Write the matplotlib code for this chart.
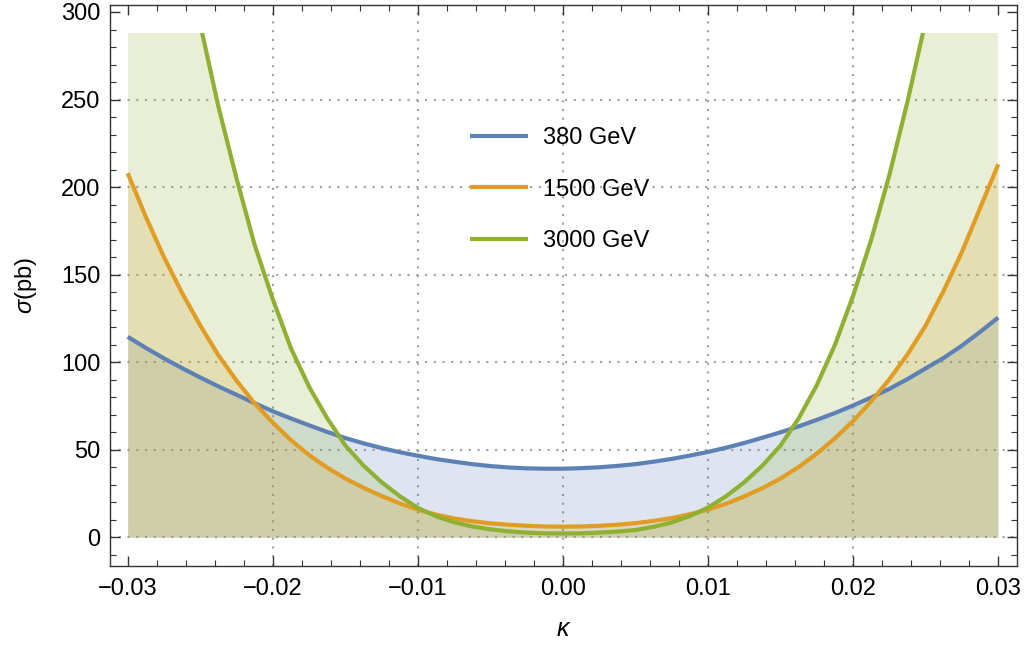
import matplotlib
matplotlib.use("Agg")
import matplotlib.pyplot as plt
from matplotlib.patches import Rectangle
from matplotlib.ticker import MultipleLocator

plt.rcParams['font.family'] = ['Liberation Sans', 'DejaVu Sans']
plt.rcParams['mathtext.fontset'] = 'custom'
plt.rcParams['mathtext.it'] = 'Liberation Sans:italic'
plt.rcParams['mathtext.rm'] = 'Liberation Sans'

# values (step 0.00125 in kappa)
kappa = [-0.03, -0.02875, -0.0275, -0.02625, -0.025, -0.02375, -0.0225, -0.02125,
         -0.02, -0.01875, -0.0175, -0.01625, -0.015, -0.01375, -0.0125, -0.01125,
         -0.01, -0.00875, -0.0075, -0.00625, -0.005, -0.00375, -0.0025, -0.00125,
         0.0, 0.00125, 0.0025, 0.00375, 0.005, 0.00625, 0.0075, 0.00875,
         0.01, 0.01125, 0.0125, 0.01375, 0.015, 0.01625, 0.0175, 0.01875,
         0.02, 0.02125, 0.0225, 0.02375, 0.025, 0.02625, 0.0275, 0.02875, 0.03]
sigma_380 = [114.5, 108.2, 102.2, 96.6, 91.3, 86.2, 81.4, 76.6,
             72.0, 67.9, 64.0, 60.2, 56.7, 53.7, 51.0, 48.6,
             46.6, 44.7, 43.2, 41.8, 40.7, 39.9, 39.4, 39.2,
             39.2, 39.5, 40.0, 40.8, 41.8, 43.2, 44.8, 46.7,
             48.8, 51.2, 53.9, 56.9, 60.0, 63.4, 67.1, 71.0,
             75.3, 79.9, 84.8, 90.4, 96.5, 102.5, 109.5, 117.3, 125.5]
sigma_1500 = [208.0, 183.0, 160.0, 139.5, 121.0, 104.0, 89.5, 76.5,
              65.5, 55.5, 47.0, 39.8, 33.6, 28.3, 23.6, 19.4,
              15.8, 13.0, 10.8, 9.2, 8.0, 7.2, 6.6, 6.2,
              6.1, 6.2, 6.6, 7.2, 8.1, 9.4, 11.0, 13.2,
              15.8, 19.2, 23.4, 28.1, 33.6, 40.2, 47.8, 56.6,
              66.5, 77.7, 90.3, 104.5, 121.0, 141.0, 163.0, 188.0, 213.0]
sigma_3000 = [570.0, 490.0, 420.0, 352.0, 293.0, 246.0, 205.0, 167.0,
              136.0, 108.0, 86.0, 68.0, 52.5, 41.0, 31.5, 23.5,
              16.8, 12.0, 8.6, 6.2, 4.6, 3.4, 2.7, 2.3,
              2.2, 2.3, 2.7, 3.3, 4.2, 6.0, 8.5, 12.2,
              17.0, 23.5, 31.5, 41.0, 52.5, 68.0, 87.0, 110.0,
              138.0, 170.0, 207.0, 249.0, 295.0, 352.0, 420.0, 490.0, 570.0]
labels = ['380 GeV', '1500 GeV', '3000 GeV']
colors = ['#5E81B5', '#E19C24', '#8FB032']
plot_top = 288

fig = plt.figure(figsize=(10.29, 6.48), dpi=100)
ax = fig.add_axes([0.1069, 0.127, 0.8811, 0.8653])

series = [sigma_380, sigma_1500, sigma_3000]
fill_clip = Rectangle((-0.03, -20), 0.06, plot_top + 20, transform=ax.transData)
line_clip = Rectangle((-0.032, -20), 0.064, plot_top + 20, transform=ax.transData)

for ys, c in zip(series, colors):
    f = ax.fill_between(kappa, 0, ys, color=c, alpha=0.2, linewidth=0)
    f.set_clip_path(fill_clip)

handles = []
for ys, c, lab in zip(series, colors, labels):
    ln, = ax.plot(kappa, ys, color=c, lw=3.0, label=lab, solid_capstyle='butt',
                  solid_joinstyle='round')
    ln.set_clip_path(line_clip)
    handles.append(ln)

ax.set_xlim(-0.03122, 0.03127)
ax.set_ylim(-16.2, 304)

ax.xaxis.set_minor_locator(MultipleLocator(0.002))
ax.yaxis.set_minor_locator(MultipleLocator(10))
ax.set_xticks([-0.03, -0.02, -0.01, 0.0, 0.01, 0.02, 0.03])
ax.set_xticklabels(['\u22120.03', '\u22120.02', '\u22120.01', '0.00', '0.01', '0.02', '0.03'])
ax.set_yticks([0, 50, 100, 150, 200, 250, 300])

ax.tick_params(which='both', direction='in', top=True, right=True,
               color='#333333', labelsize=17)
ax.tick_params(which='major', length=7, width=1)
ax.tick_params(which='minor', length=4, width=0.8)
ax.tick_params(axis='y', pad=7)
ax.tick_params(axis='x', pad=9)
for s in ax.spines.values():
    s.set_color('#333333')
    s.set_linewidth(1)

grid_kw = dict(color='#a0a0a0', lw=1.5, linestyle=(0, (1, 3.2)), zorder=0.5)
for gx in [-0.02, -0.01, 0.0, 0.01, 0.02]:
    ax.axvline(gx, **grid_kw)
for gy in [0, 50, 100, 150, 200, 250]:
    ax.axhline(gy, **grid_kw)

ax.set_xlabel(r'$\kappa$', fontsize=18, labelpad=12)
ax.set_ylabel(r'$\sigma$(pb)', fontsize=17, labelpad=16)

ax.legend(handles=handles, loc='upper left', bbox_to_anchor=(0.374, 0.82),
          frameon=False, fontsize=17, handlelength=2.46, handletextpad=0.6,
          labelspacing=1.25)

fig.savefig('out.png', dpi=100)
